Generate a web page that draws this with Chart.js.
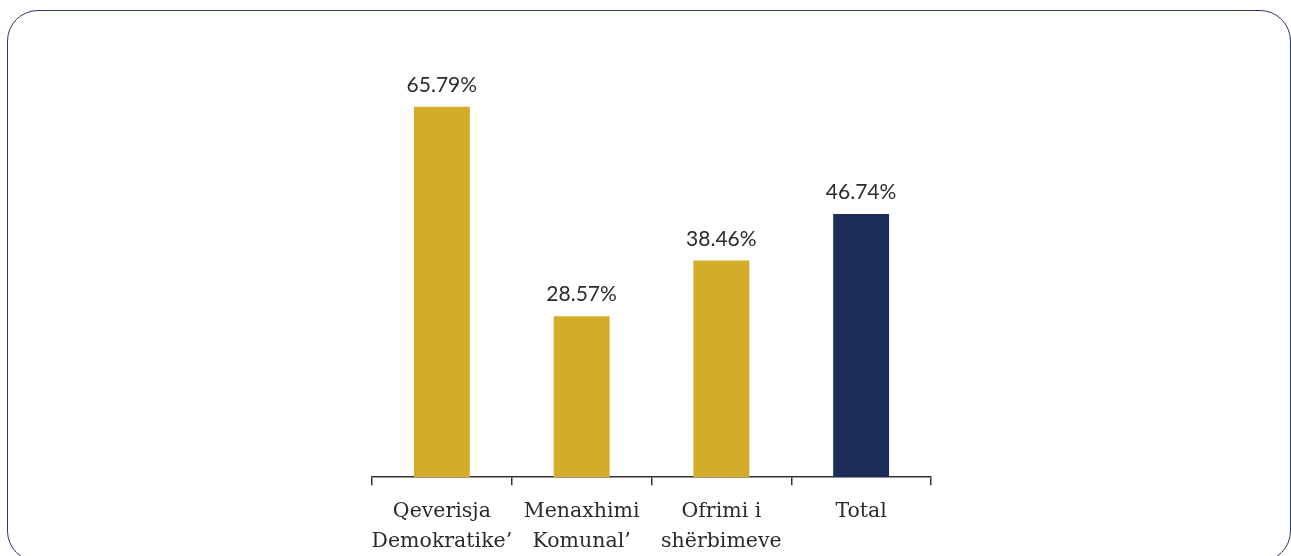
<!DOCTYPE html>
<html>
<head>
<meta charset="utf-8">
<script src="https://cdn.jsdelivr.net/npm/chart.js@4"></script>
<style>
  html, body { margin: 0; padding: 0; background: #fff; }
  body { width: 1291px; height: 556px; position: relative; overflow: hidden; }
  .card {
    position: absolute; left: 7px; top: 10px; width: 1284px; height: 552px;
    border: 1.5px solid #2b3766; border-radius: 31px; box-sizing: border-box;
  }
  #wrap { position: absolute; left: 0; top: 0; width: 1291px; height: 569px; }
</style>
</head>
<body>
<div class="card"></div>
<div id="wrap"><canvas id="chart"></canvas></div>
<script>
// Categories and values
const categories = [['Qeverisja', 'Demokratike’'], ['Menaxhimi', 'Komunal’'], ['Ofrimi i', 'shërbimeve'], ['Total']];
const values = [65.79, 28.57, 38.46, 46.74];
const barColors = ['#D3AC2A', '#D3AC2A', '#D3AC2A', '#1B2D58'];

// Draw percentage labels above each bar
const valueLabels = {
  id: 'valueLabels',
  afterDatasetsDraw(chart) {
    const ctx = chart.ctx;
    const meta = chart.getDatasetMeta(0);
    ctx.save();
    ctx.font = '21px Lato, "Open Sans", sans-serif';
    ctx.fillStyle = '#2b2b2b';
    ctx.textAlign = 'center';
    ctx.textBaseline = 'alphabetic';
    meta.data.forEach((bar, i) => {
      ctx.fillText(values[i].toFixed(2) + '%', bar.x, bar.y - 15);
    });
    ctx.restore();
  }
};

new Chart(document.getElementById('chart'), {
  type: 'bar',
  data: {
    labels: categories,
    datasets: [{
      data: values,
      backgroundColor: barColors,
      barPercentage: 0.4,
      categoryPercentage: 1
    }]
  },
  options: {
    responsive: true,
    maintainAspectRatio: false,
    animation: false,
    layout: { padding: { left: 372, right: 360, top: 83, bottom: 0 } },
    plugins: {
      legend: { display: false },
      tooltip: { enabled: false }
    },
    scales: {
      x: {
        grid: {
          display: true,
          drawOnChartArea: false,
          tickLength: 8,
          color: '#333',
          lineWidth: 1.5
        },
        border: { display: true, color: '#333', width: 1.5 },
        ticks: {
          color: '#2b2b2b',
          font: { family: '"DejaVu Serif", serif', size: 20.5, lineHeight: 1.46 },
          padding: 12,
          autoSkip: false,
          maxRotation: 0,
          minRotation: 0
        }
      },
      y: {
        display: false,
        min: 0,
        max: 70
      }
    }
  },
  plugins: [valueLabels]
});
</script>
</body>
</html>
